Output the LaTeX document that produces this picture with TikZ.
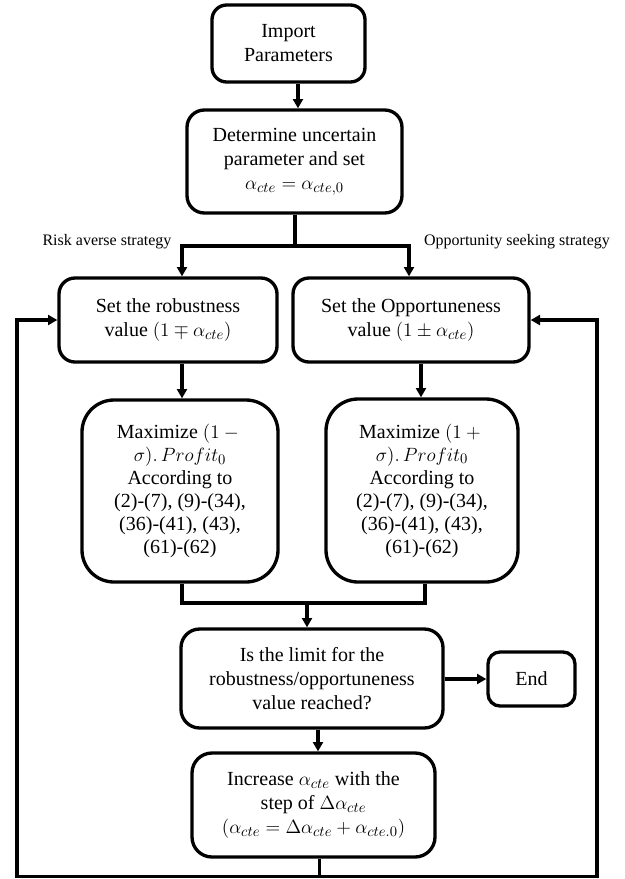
\documentclass[tikz,border=0pt]{standalone}
\usepackage[no-math]{fontspec}
\setmainfont{Liberation Serif}
\usetikzlibrary{arrows.meta,calc}
\begin{document}
\begin{tikzpicture}[x=0.75pt,y=-0.75pt,
  box/.style={draw=black,line width=2.5pt,align=center,inner sep=0pt,
    font=\fontsize{15}{18}\selectfont},
  lbl/.style={inner sep=0pt,font=\fontsize{12}{14}\selectfont},
  conn/.style={line width=2.5pt,draw=black},
  arr/.style={conn,-{Triangle[length=7pt,width=7.5pt]}}]
\useasboundingbox (0,0) rectangle (625,879);
% nodes
\node[box,rounded corners=11pt,minimum width=114.75pt,minimum height=57.75pt] (imp) at (288.5,43.5) {Import\\Parameters};
\node[box,rounded corners=13pt,minimum width=161.25pt,minimum height=77.25pt] (det) at (294.5,161.5) {Determine uncertain\\parameter and set\\$\alpha_{cte}=\alpha_{cte,0}$};
\node[box,rounded corners=12pt,minimum width=163.5pt,minimum height=63pt] (rob) at (168,320) {Set the robustness\\value $(1\mp\alpha_{cte})$};
\node[box,rounded corners=12pt,minimum width=177pt,minimum height=63pt] (opp) at (411,320) {Set the Opportuneness\\value $(1\pm\alpha_{cte})$};
\node[box,rounded corners=24pt,minimum width=147pt,minimum height=136.5pt,font=\fontsize{15}{17.25}\selectfont] (maxl) at (180,491) {Maximize $(1-{}$\\$\sigma).\,Profit_0$\\According to\\(2)-(7), (9)-(34),\\(36)-(41), (43),\\(61)-(62)};
\node[box,rounded corners=24pt,minimum width=144pt,minimum height=137.25pt,font=\fontsize{15}{17.25}\selectfont] (maxr) at (422,490.5) {Maximize $(1+{}$\\$\sigma).\,Profit_0$\\According to\\(2)-(7), (9)-(34),\\(36)-(41), (43),\\(61)-(62)};
\node[box,rounded corners=14pt,minimum width=196.5pt,minimum height=74.25pt] (lim) at (312,678.5) {Is the limit for the\\robustness/opportuneness\\value reached?};
\node[box,rounded corners=9pt,minimum width=65.25pt,minimum height=40.5pt] (endn) at (531.5,679) {End};
\node[box,rounded corners=15pt,minimum width=182.25pt,minimum height=78pt] (inc) at (313.5,805) {Increase $\alpha_{cte}$ with the\\step of $\Delta\alpha_{cte}$\\$(\alpha_{cte}=\Delta\alpha_{cte}+\alpha_{cte.0})$};
% labels
\node[lbl] (lra) at (107,242) {Risk averse strategy};
\node[lbl] (los) at (517,242) {Opportunity seeking strategy};
% coordinates
\coordinate (split) at (295,246);
\coordinate (splitL) at (182,246);
\coordinate (splitR) at (409,246);
\coordinate (joinY) at (0,603);
\coordinate (loopY) at (0,876.5);
\coordinate (fbL) at (17,0);
\coordinate (fbR) at (597,0);
% connectors
\draw[arr] ([xshift=7.1pt]imp.south) -- ([xshift=7.1pt]imp.south |- det.north);
\draw[conn] (det.south -| split) -- (split);
\draw[conn,line join=miter] (splitL) -- (splitR);
\draw[arr] ([yshift=1.2pt]splitL) -- (splitL |- rob.north);
\draw[arr] ([yshift=1.2pt]splitR) -- (splitR |- opp.north);
\draw[arr] (rob.south -| splitL) -- (maxl.north -| splitL);
\draw[arr] ([xshift=7.5pt]opp.south) -- ([xshift=7.5pt]opp.south |- maxr.north);
\draw[conn,line join=miter] (maxl.south -| splitL) -- (joinY -| splitL) -- (joinY -| 425,0) -- (maxr.south -| 425,0);
\draw[arr] ([yshift=-1.2pt]joinY -| 307,0) -- (lim.north -| 307,0);
\draw[arr] (lim.east |- endn.west) -- (endn.west);
\draw[arr] ([xshift=4.5pt]lim.south) -- ([xshift=4.5pt]lim.south |- inc.north);
\draw[conn] ([xshift=4.5pt]inc.south) -- ([xshift=4.5pt]inc.south |- loopY);
\draw[arr,line join=miter] (loopY -| inc.south) -- (loopY -| fbL) -- (fbL |- rob.west) -- (rob.west);
\draw[arr,line join=miter] (loopY -| inc.south) -- (loopY -| fbR) -- (fbR |- opp.east) -- (opp.east);
\end{tikzpicture}
\end{document}
